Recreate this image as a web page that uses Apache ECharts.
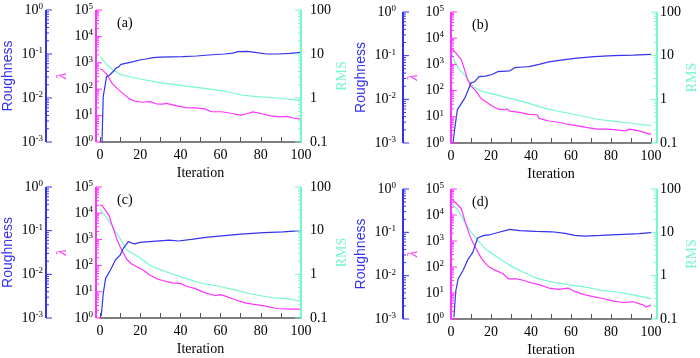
<!DOCTYPE html>
<html>
<head>
<meta charset="utf-8">
<script src="https://cdn.jsdelivr.net/npm/echarts@6/dist/echarts.min.js"></script>
<style>
  html, body { margin: 0; padding: 0; background: #fff; }
  #chart { width: 700px; height: 358px; }
</style>
</head>
<body>
<div id="chart"></div>
<script>
// [iteration, value] pairs
var roughA = [[1, 0.001], [1.6, 0.0107], [3.3, 0.031], [4.4, 0.032], [6.8, 0.041], [8, 0.048], [9.3, 0.051], [10.4, 0.058], [13.3, 0.062], [16, 0.066], [19.8, 0.073], [23, 0.077], [26.3, 0.083], [30, 0.085], [41, 0.087], [48, 0.09], [54, 0.095], [62, 0.1], [66, 0.105], [68.6, 0.113], [73.5, 0.115], [78, 0.107], [83, 0.1], [88, 0.1], [94.6, 0.103], [100, 0.109]];
var lambdaA = [[0, 582], [1, 550], [3.6, 347], [6, 166], [8.5, 107], [11.7, 65], [15, 42], [17.4, 35], [20.7, 32], [24.7, 34], [28, 28], [31, 27], [33, 29], [37.7, 24], [42.6, 20], [47.5, 19.5], [52, 18], [55.6, 14], [60.5, 14], [65, 12.3], [70, 10.5], [73.5, 12], [76, 13.8], [80, 12], [85, 9.7], [89.8, 8.9], [93, 9.4], [96, 8.1], [100, 7.4]];
var rmsA = [[0, 8.7], [3.6, 5.6], [6.8, 4.2], [10, 3.45], [13.3, 3.16], [20, 2.7], [29.6, 2.23], [39, 1.97], [49, 1.72], [62, 1.44], [70, 1.17], [78, 1.07], [88, 1.0], [100, 0.87]];

var roughB = [[1, 0.001], [1.9, 0.0022], [3.2, 0.0058], [5.2, 0.0081], [6.8, 0.0105], [8.4, 0.0155], [10, 0.024], [11.7, 0.025], [14, 0.033], [17.3, 0.034], [20.5, 0.037], [23.3, 0.043], [29.4, 0.045], [31.9, 0.053], [36, 0.055], [39, 0.056], [44, 0.063], [48.9, 0.072], [55, 0.079], [61.8, 0.087], [71.5, 0.095], [81, 0.1], [91, 0.103], [100, 0.107]];
var lambdaB = [[0, 3800], [1, 3700], [3.2, 2290], [5.2, 1480], [6.8, 617], [8.4, 251], [10, 151], [12.5, 95], [15, 50], [17.3, 38], [20.5, 25.7], [23.8, 19.5], [27, 18.6], [28, 20], [29.4, 16.6], [34.3, 14.8], [39, 12.3], [43, 12], [44, 8.7], [48.9, 6.9], [53.7, 6.2], [58.6, 5.1], [63.4, 4.5], [68.3, 3.85], [73, 3.4], [78, 3.4], [82.8, 3.16], [86.9, 2.9], [89.3, 3.4], [94, 2.9], [100, 2.14]];
var rmsB = [[0, 12.3], [1.9, 7.2], [4.4, 4.7], [6.8, 3.6], [9.2, 2.5], [11.7, 1.86], [14.9, 1.55], [19.7, 1.37], [26, 1.15], [32.7, 0.97], [39, 0.81], [47, 0.62], [55, 0.52], [65, 0.42], [73, 0.35], [82.8, 0.31], [91, 0.28], [100, 0.25]];

var roughC = [[0.6, 0.0011], [1.6, 0.0036], [2.8, 0.0081], [5.2, 0.0126], [7.6, 0.021], [10, 0.0275], [11.7, 0.04], [14.1, 0.056], [15.8, 0.052], [17.4, 0.05], [19.8, 0.054], [26.3, 0.057], [34.5, 0.061], [39, 0.058], [45.5, 0.063], [53.7, 0.071], [62, 0.077], [70, 0.083], [81.6, 0.09], [91, 0.094], [100, 0.1]];
var lambdaC = [[0, 20400], [1, 20000], [4.4, 8500], [6, 3550], [8.5, 955], [10, 525], [11.7, 295], [13.3, 174], [15.8, 115], [18.2, 91], [21.5, 68], [24.7, 44], [28, 32], [31, 27], [36, 22], [40, 21], [42.6, 16.6], [47.5, 13.2], [52, 9.3], [57, 7.2], [60, 7.8], [62, 7], [67, 5.1], [72, 3.8], [76.7, 3.3], [81.6, 2.9], [88, 2.3], [94.6, 2.2], [100, 2.2]];
var rmsC = [[0, 31], [3.6, 19], [6.8, 11.2], [10, 6.6], [13.3, 3.6], [16.6, 2.95], [19.8, 2.4], [24.7, 1.64], [29.6, 1.3], [36, 1.02], [42.6, 0.81], [49, 0.65], [58.5, 0.54], [67, 0.44], [75, 0.355], [85, 0.295], [94.6, 0.27], [100, 0.245]];

var roughD = [[1.5, 0.0011], [2.3, 0.0042], [3.6, 0.0085], [6, 0.0132], [8.4, 0.0234], [10.8, 0.034], [13.3, 0.074], [16.5, 0.085], [19, 0.087], [23, 0.098], [29.4, 0.117], [34.3, 0.11], [42.4, 0.105], [50.5, 0.103], [57, 0.095], [61.8, 0.085], [66.7, 0.082], [74.8, 0.085], [86, 0.09], [94, 0.093], [100, 0.098]];
var lambdaD = [[0, 42700], [2, 31600], [5.2, 17400], [7.6, 3980], [10, 1230], [12.5, 513], [15, 224], [18.1, 115], [21.4, 79], [26, 55], [28.6, 35], [32.7, 35], [36, 31], [39, 26], [44, 21], [48.9, 15.5], [53.7, 13.8], [58.6, 15.5], [61.8, 11.5], [66.7, 8.7], [71.5, 7.1], [76.4, 6], [81.2, 4.9], [86, 4.3], [91, 4.6], [95.8, 3.5], [97.4, 2.9], [100, 3.4]];
var rmsD = [[0, 48], [3.6, 32], [6.8, 17.4], [10, 10.2], [13.3, 6.5], [18.1, 3.84], [23, 2.7], [29.4, 1.73], [36, 1.22], [42.4, 0.88], [50.5, 0.71], [58.6, 0.62], [66.7, 0.55], [74.8, 0.46], [82.9, 0.42], [91, 0.36], [100, 0.295]];

var panelLabels = ['(a)', '(b)', '(c)', '(d)'];

var BLUE = '#3333ee';
var MAGENTA = '#ff33ff';
var AQUA = '#77f7cc';
var AXIS = '#555555';
var SERIF = '"Liberation Serif", "Times New Roman", serif';
var SANS = '"Liberation Sans", Arial, sans-serif';

var layout = [
    { left: 96, right: 399, top: 10, height: 132, offset: 50 },
    { left: 451, right: 43, top: 12, height: 131, offset: 48 },
    { left: 96, right: 399, top: 187, height: 131, offset: 50 },
    { left: 451, right: 43, top: 189, height: 130, offset: 48 }
];
var panelData = [
    [roughA, lambdaA, rmsA],
    [roughB, lambdaB, rmsB],
    [roughC, lambdaC, rmsC],
    [roughD, lambdaD, rmsD]
];

var powRich = {
    b: { fontFamily: SERIF, fontSize: 14, color: '#000', lineHeight: 16 },
    s: { fontFamily: SERIF, fontSize: 9, color: '#000', lineHeight: 16, verticalAlign: 'top' }
};

function powLabel(v) {
    return '{b|10}{s|' + Math.round(Math.log10(v)) + '}';
}

function logAxis(gridIndex, min, max, extra) {
    var axis = {
        type: 'log',
        logBase: 10,
        gridIndex: gridIndex,
        min: min,
        max: max,
        axisLine: { show: false },
        axisTick: { show: false },
        splitLine: { show: false },
        axisLabel: { margin: 7, formatter: powLabel, rich: powRich },
        nameLocation: 'middle'
    };
    return Object.assign(axis, extra);
}

// axis spine plus decade (long) and 2..9 (short) ticks, placed through the axis scale
function axisDecor(i, k, min, max, xPixel, dir, color) {
    var ticks = [];
    var e0 = Math.round(Math.log10(min)), e1 = Math.round(Math.log10(max));
    for (var e = e0; e <= e1; e++) {
        ticks.push([0, Math.pow(10, e), 6]);
        if (e < e1) {
            for (var m = 2; m <= 9; m++) ticks.push([0, m * Math.pow(10, e), 3]);
        }
    }
    return {
        type: 'custom',
        xAxisIndex: i,
        yAxisIndex: i * 3 + k,
        silent: true,
        clip: false,
        z: 5,
        data: ticks,
        renderItem: function (params, api) {
            var y = api.coord([0, api.value(1)])[1];
            var children = [{
                type: 'line',
                shape: { x1: xPixel, y1: y, x2: xPixel + dir * api.value(2), y2: y },
                style: { stroke: color, lineWidth: 1 }
            }];
            if (params.dataIndex === 0) {
                children.push({
                    type: 'line',
                    shape: { x1: xPixel, y1: y, x2: xPixel, y2: api.coord([0, max])[1] },
                    style: { stroke: color, lineWidth: 2 }
                });
            }
            return { type: 'group', children: children };
        }
    };
}

var grids = [], xAxes = [], yAxes = [], series = [], titles = [];

layout.forEach(function (g, i) {
    grids.push({ left: g.left, right: g.right, top: g.top, height: g.height });
    titles.push({
        text: panelLabels[i],
        left: g.left + 16,
        top: g.top + 1,
        textStyle: { fontFamily: SERIF, fontSize: 14, fontWeight: 'normal', color: '#000' }
    });
    xAxes.push({
        type: 'value',
        gridIndex: i,
        min: 0,
        max: 100,
        interval: 10,
        axisLine: { onZero: false, lineStyle: { color: AXIS, width: 1.5 } },
        axisTick: { inside: true, length: 5, lineStyle: { color: AXIS } },
        splitLine: { show: false },
        axisLabel: {
            margin: 6,
            fontFamily: SERIF, fontSize: 14, color: '#000',
            formatter: function (v) { return v % 20 === 0 ? String(v) : ''; }
        },
        name: 'Iteration',
        nameLocation: 'middle',
        nameGap: 24,
        nameTextStyle: { fontFamily: SERIF, fontSize: 14, color: '#000' }
    });
    yAxes.push(logAxis(i, 0.001, 1, {
        position: 'left',
        offset: g.offset,
        name: 'Roughness',
        nameGap: 35,
        nameTextStyle: { fontFamily: SANS, fontSize: 14, color: BLUE }
    }));
    yAxes.push(logAxis(i, 1, 100000, {
        position: 'left',
        name: 'λ',
        nameGap: 30,
        nameTextStyle: { fontFamily: SERIF, fontSize: 15, fontStyle: 'italic', color: MAGENTA }
    }));
    yAxes.push(logAxis(i, 0.1, 100, {
        position: 'right',
        name: 'RMS',
        nameGap: 33,
        nameTextStyle: { fontFamily: SERIF, fontSize: 14, color: AQUA },
        axisLabel: { margin: 9, fontFamily: SERIF, fontSize: 14, color: '#000' }
    }));
    var names = ['Roughness', 'Lambda', 'RMS'];
    var colors = [BLUE, MAGENTA, AQUA];
    panelData[i].forEach(function (d, k) {
        series.push({
            type: 'line',
            name: names[k],
            xAxisIndex: i,
            yAxisIndex: i * 3 + k,
            data: d,
            showSymbol: false,
            lineStyle: { color: colors[k], width: 1.2 },
            z: 3 - k
        });
    });
    var right = 700 - g.right;
    series.push(axisDecor(i, 0, 0.001, 1, g.left - g.offset, 1, BLUE));
    series.push(axisDecor(i, 1, 1, 100000, g.left, 1, MAGENTA));
    series.push(axisDecor(i, 2, 0.1, 100, right, -1, AQUA));
});

var chart = echarts.init(document.getElementById('chart'));
chart.setOption({
    animation: false,
    backgroundColor: '#fff',
    title: titles,
    grid: grids,
    xAxis: xAxes,
    yAxis: yAxes,
    series: series
});
</script>
</body>
</html>
